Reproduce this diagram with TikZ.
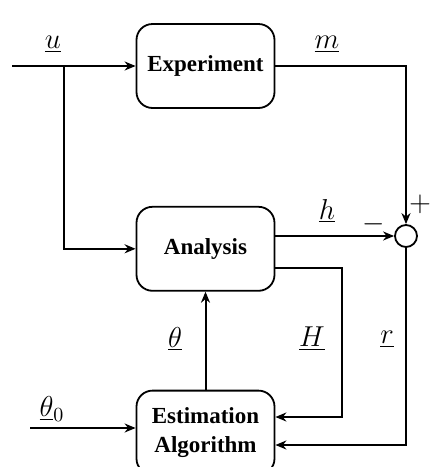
\documentclass[tikz,border=0pt]{standalone}
\usepackage{fontspec}
\setmainfont{Liberation Serif}
\usepackage{tikz}
\usetikzlibrary{arrows.meta,positioning}

\begin{document}
\begin{tikzpicture}[
    x=0.5pt, y=-0.5pt,
    block/.style={draw, rectangle, rounded corners=8pt, line width=0.9pt,
                  minimum width=69pt, minimum height=42pt, align=center,
                  font=\fontsize{11.5}{14.5}\selectfont\bfseries},
    sumnode/.style={draw, circle, line width=0.9pt, minimum size=11pt, inner sep=0pt},
    sig/.style={font=\fontsize{14.5}{16}\selectfont},
    arrow/.style={-{Stealth[length=5.5pt,width=4.5pt]}, line width=1pt},
    node distance=48.5pt
]
\useasboundingbox (0,0) rectangle (430,467);

% Experiment
\node[block] (exp) at (205.5,66) {Experiment};

% Analysis
\node[block, below=of exp] (ana) {Analysis};

% Estimation Algorithm
\node[block, below=49pt of ana] (est) {Estimation\\Algorithm};

% Summing junction
\node[sumnode] (sum) at (406,236) {};

% inputs and corners
\coordinate (uin) at (12,66);
\coordinate (ubr) at (64,66);
\coordinate (thin) at (30,428);
\coordinate (hcor) at (342,417);
\coordinate (rcor) at (406,445);

\draw[arrow] (uin) -- (exp.west);
\draw[arrow] (ubr) |- (ana.west);
\draw[arrow] (thin) -- (thin -| est.west);

% outputs
\draw[arrow] (exp.east) -| (sum.north);
\draw[arrow] (ana.east |- sum.west) -- (sum.west);
\draw[arrow] ([yshift=-9.5pt]ana.east) -| (hcor) -- (hcor -| est.east);
\draw[arrow] (sum.south) -- (rcor) -- (rcor -| est.east);
\draw[arrow] (est.north) -- (ana.south);

% Labels
\node[sig] (lu) at (53,44) {$\underline{u}$};
\node[sig] (lm) at (327,44) {$\underline{m}$};
\node[sig] (lh) at (327,211) {$\underline{h}$};
\node[sig] (lth) at (175,339) {$\underline{\theta}$};
\node[sig] (lH) at (312,339) {$\underline{H}$};
\node[sig] (lr) at (387,339) {$\underline{r}$};
\node[sig] (lth0) at (52,409) {$\underline{\theta}_0$};
\node[sig] (lplus) at (420,204) {$+$};
\node[sig] (lminus) at (374,224) {$-$};

\end{tikzpicture}
\end{document}
